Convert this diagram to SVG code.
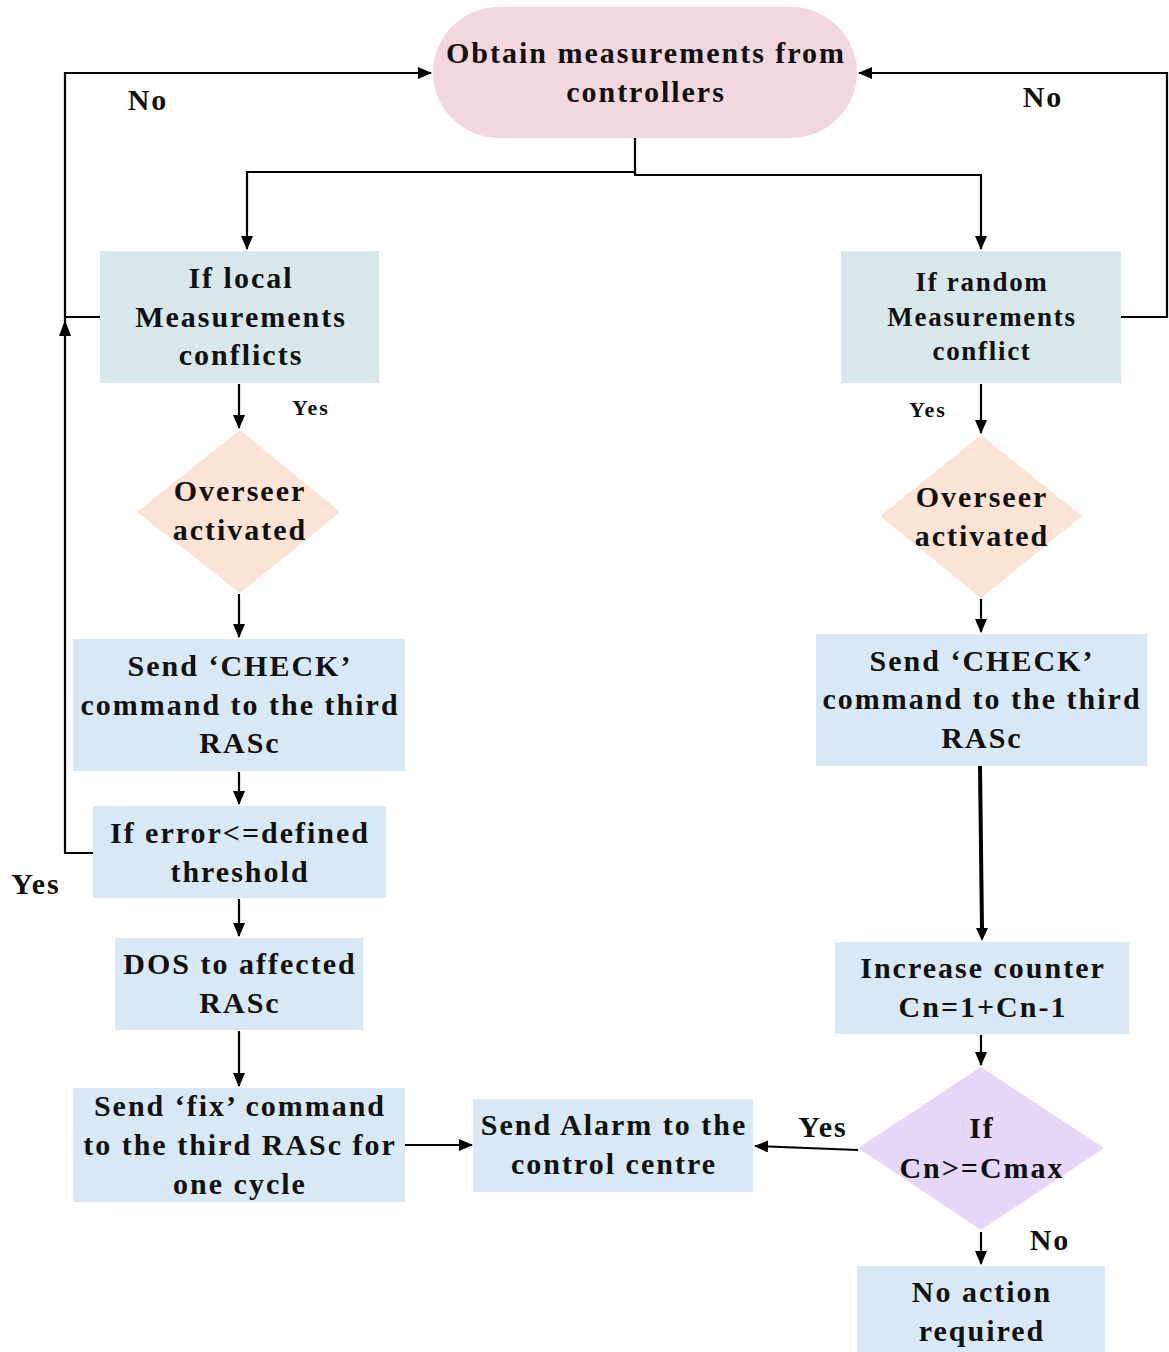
<svg xmlns="http://www.w3.org/2000/svg" width="1169" height="1352" viewBox="0 0 1169 1352">
<defs>
<marker id="ah" markerUnits="userSpaceOnUse" markerWidth="14" markerHeight="12" refX="13" refY="6" orient="auto">
<path d="M0,0 L14,6 L0,12 Z" fill="#000"/>
</marker>
<style>
text{font-family:"Liberation Serif","Times New Roman",serif;font-weight:bold;fill:#111;text-anchor:middle;}
.t{font-size:30px;letter-spacing:2px;}
.s{font-size:27px;letter-spacing:1.7px;}
.y{font-size:22px;letter-spacing:2px;}
.c{fill:none;stroke:#000;stroke-width:2.2;}
.teal{fill:#D8E7E9;}
.blue{fill:#D9E8F5;}
.peach{fill:#FBE3D5;}
.pink{fill:#F3D7DF;}
.purple{fill:#E6D7F8;}
</style>
</defs>
<rect width="1169" height="1352" fill="#fff"/>

<g id="connectors">
<polyline class="c" points="100,317 65,317"/>
<polyline class="c" points="93,853 65,853 65,73 431,73" marker-end="url(#ah)"/>
<path d="M59,336 L65,320 L71,336 Z" fill="#000"/>
<polyline class="c" points="1121,317 1167,317 1167,73 859,73" marker-end="url(#ah)"/>
<polyline class="c" points="635,138 635,172 247,172 247,249" marker-end="url(#ah)"/>
<polyline class="c" points="635,172 635,175 981,175 981,249" marker-end="url(#ah)"/>
<line class="c" x1="239" y1="384" x2="239" y2="428" marker-end="url(#ah)"/>
<line class="c" x1="239" y1="594" x2="239" y2="637" marker-end="url(#ah)"/>
<line class="c" x1="239" y1="772" x2="239" y2="804" marker-end="url(#ah)"/>
<line class="c" x1="239" y1="899" x2="239" y2="936" marker-end="url(#ah)"/>
<line class="c" x1="239" y1="1031" x2="239" y2="1086" marker-end="url(#ah)"/>
<line class="c" x1="405" y1="1145" x2="472" y2="1145" marker-end="url(#ah)"/>
<line class="c" x1="981" y1="384" x2="981" y2="433" marker-end="url(#ah)"/>
<line class="c" x1="981" y1="599" x2="981" y2="632" marker-end="url(#ah)"/>
<line x1="980" y1="766" x2="982" y2="930" stroke="#000" stroke-width="4"/>
<path d="M976,928 L982,941 L988,928 Z" fill="#000"/>
<line class="c" x1="981" y1="1035" x2="981" y2="1065" marker-end="url(#ah)"/>
<line class="c" x1="858" y1="1150" x2="755" y2="1146" marker-end="url(#ah)"/>
<line class="c" x1="981" y1="1232" x2="981" y2="1264" marker-end="url(#ah)"/>
</g>

<g id="labels">
<text class="t" x="148" y="110">No</text>
<text class="t" x="1043" y="107">No</text>
<text class="y" x="311" y="415">Yes</text>
<text class="y" x="928" y="417">Yes</text>
<text class="t" x="36" y="894">Yes</text>
<text class="t" x="823" y="1137">Yes</text>
<text class="t" x="1050" y="1250">No</text>
</g>

<g id="start">
<rect class="pink" x="433" y="7" width="424" height="131" rx="66" ry="66"/>
<text class="t" x="646" y="63">Obtain measurements from</text>
<text class="t" x="646" y="102">controllers</text>
</g>

<g id="local">
<rect class="teal" x="100" y="251" width="279" height="132"/>
<text class="t" x="241" y="288">If local</text>
<text class="t" x="241" y="327">Measurements</text>
<text class="t" x="241" y="365">conflicts</text>
</g>

<g id="random">
<rect class="teal" x="841" y="251" width="280" height="132"/>
<text class="s" x="982" y="291">If random</text>
<text class="s" x="982" y="326">Measurements</text>
<text class="s" x="982" y="360">conflict</text>
</g>

<g id="overseer-left">
<polygon class="peach" points="240,430 340,512 240,593 137,512"/>
<text class="t" x="240" y="501">Overseer</text>
<text class="t" x="240" y="540">activated</text>
</g>

<g id="overseer-right">
<polygon class="peach" points="981,435 1082,516 981,598 880,516"/>
<text class="t" x="982" y="507">Overseer</text>
<text class="t" x="982" y="546">activated</text>
</g>

<g id="check-left">
<rect class="blue" x="73" y="639" width="332" height="132"/>
<text class="t" x="240" y="676">Send ‘CHECK’</text>
<text class="t" x="240" y="715">command to the third</text>
<text class="t" x="240" y="753">RASc</text>
</g>

<g id="check-right">
<rect class="blue" x="816" y="634" width="331" height="132"/>
<text class="t" x="982" y="671">Send ‘CHECK’</text>
<text class="t" x="982" y="709">command to the third</text>
<text class="t" x="982" y="748">RASc</text>
</g>

<g id="error">
<rect class="blue" x="93" y="806" width="293" height="92"/>
<text class="t" x="240" y="843">If error&lt;=defined</text>
<text class="t" x="240" y="882">threshold</text>
</g>

<g id="dos">
<rect class="blue" x="115" y="938" width="248" height="92"/>
<text class="t" x="240" y="974">DOS to affected</text>
<text class="t" x="240" y="1013">RASc</text>
</g>

<g id="fix">
<rect class="blue" x="73" y="1088" width="332" height="114"/>
<text class="t" x="240" y="1116">Send ‘fix’ command</text>
<text class="t" x="240" y="1155">to the third RASc for</text>
<text class="t" x="240" y="1194">one cycle</text>
</g>

<g id="alarm">
<rect class="blue" x="473" y="1099" width="280" height="93"/>
<text class="t" x="614" y="1135">Send Alarm to the</text>
<text class="t" x="614" y="1174">control centre</text>
</g>

<g id="counter">
<rect class="blue" x="835" y="942" width="294" height="92"/>
<text class="t" x="983" y="978">Increase counter</text>
<text class="t" x="983" y="1017">Cn=1+Cn-1</text>
</g>

<g id="cmax">
<polygon class="purple" points="981,1067 1104,1148 981,1230 858,1148"/>
<text class="t" x="982" y="1138">If</text>
<text class="t" x="982" y="1178">Cn&gt;=Cmax</text>
</g>

<g id="noaction">
<rect class="blue" x="857" y="1266" width="248" height="90"/>
<text class="t" x="982" y="1302">No action</text>
<text class="t" x="982" y="1341">required</text>
</g>
</svg>
